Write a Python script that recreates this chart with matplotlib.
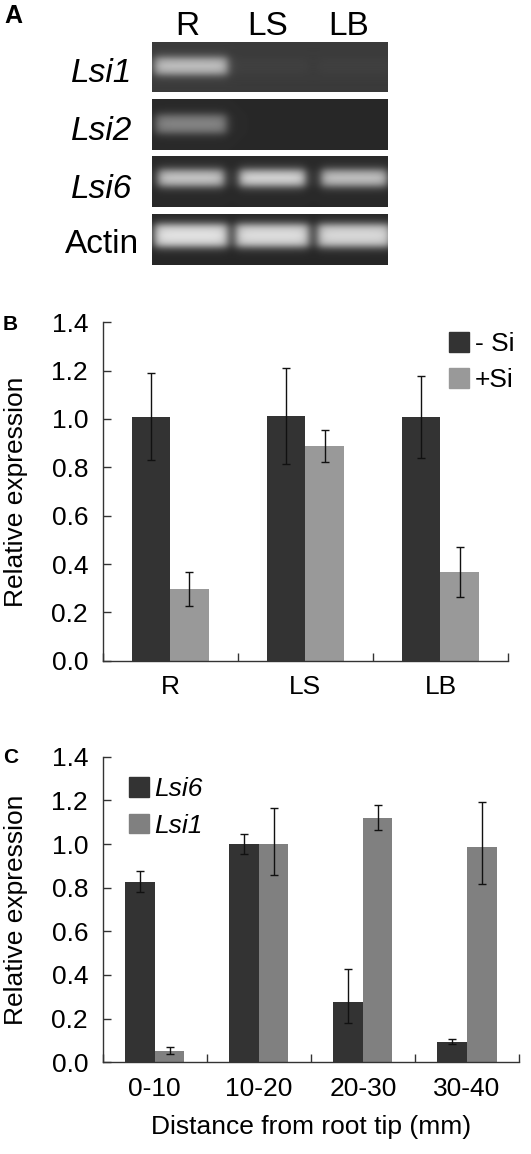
import numpy as np
import matplotlib
matplotlib.use("Agg")
import matplotlib.pyplot as plt
from matplotlib.patches import Rectangle

plt.rcParams['font.family'] = ['Liberation Sans', 'DejaVu Sans']

# ---------------- data ----------------
# Panel A: RT-PCR gel (band intensity, 0..1)
gel_lanes = ["R", "LS", "LB"]
gel_genes = ["Lsi1", "Lsi2", "Lsi6", "Actin"]
band_intensity = [
    [0.52, 0.02, 0.02],   # Lsi1
    [0.36, 0.00, 0.00],   # Lsi2
    [0.62, 0.68, 0.60],   # Lsi6
    [0.74, 0.72, 0.70],   # Actin
]

# Panel B: tissues, -Si / +Si
tissues = ["R", "LS", "LB"]
minus_si = [1.01, 1.012, 1.008]
minus_si_err = [0.18, 0.20, 0.17]
plus_si = [0.297, 0.888, 0.367]
plus_si_err = [0.07, 0.065, 0.104]

# Panel C: distance from root tip
segments = ["0-10", "10-20", "20-30", "30-40"]
lsi6 = [0.826, 0.999, 0.275, 0.093]
lsi6_err_lo = [0.044, 0.047, 0.095, 0.009]
lsi6_err_hi = [0.049, 0.048, 0.151, 0.013]
lsi1 = [0.053, 1.000, 1.118, 0.985]
lsi1_err_lo = [0.013, 0.141, 0.052, 0.170]
lsi1_err_hi = [0.018, 0.166, 0.059, 0.209]

# ---------------- figure ----------------
W, H = 531, 1154
fig = plt.figure(figsize=(W / 100, H / 100), dpi=100)


def fx(px):
    return px / W


def fy(py):
    return 1 - py / H


DARK = "#333333"
LIGHT_B = "#999999"
LIGHT_C = "#808080"
SPINE = "#333333"

# ---------------- panel A: gel ----------------
row_px = [(42, 92), (99, 150), (156, 207), (214, 265)]
row_bg = [0.23, 0.16, 0.16, 0.15]
lane_cx = [0.165, 0.51, 0.858]
band_hw = [0.155, 0.15, 0.14, 0.155]
band_cy = [0.48, 0.49, 0.43, 0.42]
band_hh = [0.17, 0.18, 0.16, 0.22]
row_label_base = [81.7, 140, 198.3, 253.3]

nx, ny = 472, 102
xs = np.linspace(0, 1, nx)
ys = np.linspace(0, 1, ny)
XX, YY = np.meshgrid(xs, ys)
for i, gene in enumerate(gel_genes):
    top, bot = row_px[i]
    ax = fig.add_axes([fx(152), fy(bot), fx(388) - fx(152), (bot - top) / H])
    img = np.full((ny, nx), row_bg[i])
    for j, lane in enumerate(gel_lanes):
        px_ = 1 / (1 + np.exp((np.abs(XX - lane_cx[j]) - band_hw[i]) / 0.012))
        py_ = 1 / (1 + np.exp((np.abs(YY - band_cy[i]) - band_hh[i]) / 0.05))
        img = img + band_intensity[i][j] * px_ * py_
    ax.imshow(img, cmap="gray", vmin=0, vmax=1, aspect="auto",
              extent=(0, 1, 1, 0), interpolation="bilinear")
    ax.set_xlim(0, 1)
    ax.set_ylim(1, 0)
    ax.axis("off")
    style = "italic" if gene.startswith("Lsi") else "normal"
    fig.text(fx(102), fy(row_label_base[i]), gene, ha="center", va="baseline",
             fontsize=24, style=style)

lane_label_x = [187.5, 268, 349]
for j, lane in enumerate(gel_lanes):
    fig.text(fx(lane_label_x[j]), fy(35), lane, ha="center", va="baseline",
             fontsize=24)

fig.text(fx(4), fy(23), "A", ha="left", va="baseline", fontsize=18,
         fontweight="bold")


# ---------------- helper for bar panels ----------------
def style_axes(ax, n, labels):
    for s in ["top", "right"]:
        ax.spines[s].set_visible(False)
    for s in ["left", "bottom"]:
        ax.spines[s].set_color(SPINE)
        ax.spines[s].set_linewidth(1.0)
    ax.set_xlim(0, n)
    ax.set_ylim(0, 1.4)
    ax.set_yticks(np.arange(0, 1.41, 0.2))
    ax.set_yticklabels([f"{v:.1f}" for v in np.arange(0, 1.41, 0.2)])
    ax.set_xticks(np.arange(0, n + 1))
    ax.set_xticklabels([""] * (n + 1))
    ax.set_xticks(np.arange(n) + 0.5, minor=True)
    ax.set_xticklabels(labels, minor=True)
    ax.tick_params(axis="both", which="major", direction="in", length=6,
                   width=1.0, color=SPINE, labelsize=19, pad=10.5)
    ax.tick_params(axis="x", which="minor", length=0, labelsize=19, pad=10.5)
    ax.set_ylabel("Relative expression", fontsize=19)


bw = 0.284

# ---------------- panel B ----------------
axB = fig.add_axes([fx(102.7), fy(660.7), fx(508) - fx(102.7),
                    (660.7 - 322.3) / H])
xb = np.arange(len(tissues)) + 0.5
axB.bar(xb - bw / 2, minus_si, bw, color=DARK, yerr=minus_si_err,
        error_kw=dict(ecolor="#111111", elinewidth=1.0, capsize=3,
                      capthick=1.0))
axB.bar(xb + bw / 2, plus_si, bw, color=LIGHT_B, yerr=plus_si_err,
        error_kw=dict(ecolor="#111111", elinewidth=1.0, capsize=3,
                      capthick=1.0))
style_axes(axB, len(tissues), tissues)
axB.yaxis.set_label_coords(-0.185, 0.5)
fig.text(fx(3), fy(330), "B", ha="left", va="baseline", fontsize=15,
         fontweight="bold")

# legend B
for k, (lab, col) in enumerate([("- Si", DARK), ("+Si", LIGHT_B)]):
    y0 = [332, 367.7][k]
    fig.patches.append(Rectangle((fx(449), fy(y0 + 20)), fx(20), 20 / H,
                                 transform=fig.transFigure, color=col))
    fig.text(fx(475), fy(y0 + 10), lab, ha="left", va="center_baseline",
             fontsize=19)

# ---------------- panel C ----------------
axC = fig.add_axes([fx(102.7), fy(1062.3), fx(519) - fx(102.7),
                    (1062.3 - 756.7) / H])
xc = np.arange(len(segments)) + 0.5
axC.bar(xc - bw / 2, lsi6, bw, color=DARK,
        yerr=[lsi6_err_lo, lsi6_err_hi],
        error_kw=dict(ecolor="#111111", elinewidth=1.0, capsize=3,
                      capthick=1.0))
axC.bar(xc + bw / 2, lsi1, bw, color=LIGHT_C,
        yerr=[lsi1_err_lo, lsi1_err_hi],
        error_kw=dict(ecolor="#111111", elinewidth=1.0, capsize=3,
                      capthick=1.0))
style_axes(axC, len(segments), segments)
axC.yaxis.set_label_coords(-0.180, 0.5)
axC.set_xlabel("Distance from root tip (mm)", fontsize=19)
axC.xaxis.set_label_coords(0.5, -0.174)
fig.text(fx(3), fy(763), "C", ha="left", va="baseline", fontsize=15,
         fontweight="bold")

for k, (lab, col) in enumerate([("Lsi6", DARK), ("Lsi1", LIGHT_C)]):
    y0 = [777.3, 814][k]
    fig.patches.append(Rectangle((fx(129.3), fy(y0 + 19.4)), fx(19.4),
                                 19.4 / H, transform=fig.transFigure,
                                 color=col))
    fig.text(fx(154), fy(y0 + 9.7), lab, ha="left", va="center_baseline",
             fontsize=19, style="italic")

fig.savefig("out.png", dpi=100)
